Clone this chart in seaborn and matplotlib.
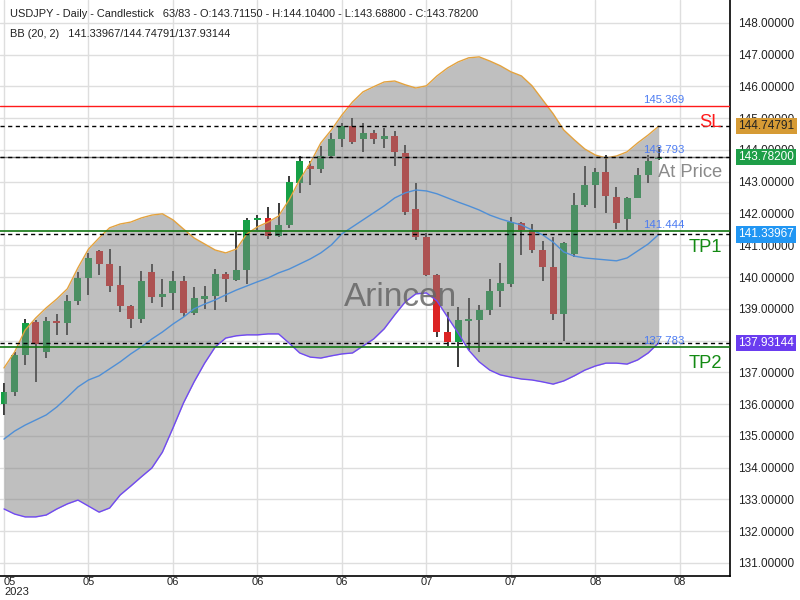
import numpy as np
import pandas as pd
import matplotlib
matplotlib.use("Agg")
import matplotlib.pyplot as plt
import seaborn as sns

# ---------------- data ----------------
opens = [136.00, 136.38, 137.55, 138.59, 137.64, 138.62, 138.55, 139.25, 139.97, 140.82,
         140.41, 139.75, 139.09, 138.68, 140.16, 139.37, 139.50, 139.88, 138.87, 139.31,
         139.40, 140.10, 139.91, 140.22, 141.80, 141.86, 141.29, 141.64, 142.96, 143.50,
         143.40, 143.81, 144.35, 144.76, 144.35, 144.54, 144.35, 144.44, 143.91, 142.14,
         141.26, 140.07, 138.27, 137.96, 138.62, 138.65, 138.96, 139.56, 139.78, 141.70,
         141.48, 140.85, 140.32, 138.84, 140.73, 142.27, 142.90, 143.31, 142.52, 141.83,
         142.49, 143.21, 143.7115]
highs = [136.66, 137.64, 138.68, 138.65, 138.74, 138.84, 139.44, 140.16, 140.76, 140.85,
         140.88, 140.35, 139.12, 140.19, 140.41, 139.94, 140.19, 140.03, 139.69, 139.72,
         140.25, 140.16, 141.45, 141.86, 141.95, 142.21, 142.33, 143.18, 143.81, 143.66,
         144.13, 144.54, 144.85, 145.01, 144.85, 144.63, 144.69, 144.60, 144.16, 142.96,
         141.39, 140.10, 138.90, 139.06, 139.34, 139.12, 139.94, 140.44, 141.89, 141.73,
         141.67, 141.14, 141.26, 141.10, 142.65, 143.50, 143.43, 143.84, 142.84, 142.52,
         143.43, 143.84, 144.104]
lows = [135.66, 136.26, 137.23, 136.70, 137.45, 138.18, 138.18, 139.12, 139.44, 140.07,
        139.53, 138.90, 138.40, 138.55, 139.18, 139.06, 138.96, 138.74, 138.81, 139.00,
        138.96, 139.22, 139.88, 139.78, 141.48, 141.20, 141.26, 141.55, 142.65, 142.90,
        143.28, 143.75, 144.10, 144.19, 143.94, 144.19, 144.06, 143.50, 141.95, 141.17,
        140.03, 138.11, 137.83, 137.17, 137.70, 137.64, 138.81, 139.06, 139.69, 140.70,
        140.76, 139.88, 138.65, 137.99, 140.63, 142.21, 142.18, 142.02, 141.51, 141.45,
        142.49, 142.96, 143.688]
closes = [136.38, 137.55, 138.55, 137.89, 138.62, 138.55, 139.25, 139.97, 140.60, 140.41,
          139.72, 139.09, 138.68, 139.88, 139.37, 139.47, 139.88, 138.87, 139.34, 139.40,
          140.10, 139.94, 140.22, 141.80, 141.86, 141.29, 141.64, 142.99, 143.66, 143.40,
          143.81, 144.35, 144.76, 144.25, 144.54, 144.35, 144.44, 143.94, 142.05, 141.26,
          140.07, 138.27, 137.96, 138.65, 138.65, 138.96, 139.56, 139.81, 141.73, 141.48,
          140.85, 140.32, 138.84, 141.07, 142.27, 142.90, 143.31, 142.55, 141.70, 142.49,
          143.21, 143.66, 143.782]

bb_upper = [137.14, 137.64, 138.33, 138.71, 139.03, 139.31, 139.63, 140.29, 140.88, 141.23,
            141.55, 141.67, 141.73, 141.86, 141.95, 141.99, 141.80, 141.51, 141.23, 141.04,
            140.85, 140.76, 140.88, 141.36, 141.58, 141.73, 141.92, 142.43, 143.06, 143.59,
            144.22, 144.63, 145.10, 145.51, 145.83, 145.99, 146.14, 146.17, 146.05, 145.95,
            146.02, 146.33, 146.58, 146.77, 146.90, 146.93, 146.80, 146.65, 146.46, 146.33,
            146.02, 145.58, 145.14, 144.63, 144.32, 144.03, 143.84, 143.75, 143.81, 143.94,
            144.22, 144.47, 144.74791]
bb_middle = [134.90, 135.15, 135.34, 135.50, 135.66, 135.91, 136.22, 136.54, 136.76, 136.89,
             137.11, 137.33, 137.58, 137.80, 138.05, 138.27, 138.52, 138.74, 139.00, 139.15,
             139.28, 139.44, 139.59, 139.72, 139.85, 139.97, 140.13, 140.25, 140.41, 140.57,
             140.76, 141.01, 141.36, 141.58, 141.80, 142.02, 142.24, 142.49, 142.65, 142.74,
             142.71, 142.62, 142.49, 142.36, 142.24, 142.11, 141.95, 141.83, 141.73, 141.64,
             141.48, 141.33, 141.10, 140.79, 140.66, 140.60, 140.57, 140.54, 140.51, 140.60,
             140.82, 141.04, 141.33967]
bb_lower = [132.70, 132.54, 132.45, 132.45, 132.51, 132.70, 132.86, 132.98, 132.79, 132.60,
            132.73, 133.14, 133.42, 133.71, 133.99, 134.49, 135.25, 136.04, 136.70, 137.29,
            137.80, 138.08, 138.15, 138.18, 138.18, 138.21, 138.21, 137.92, 137.61, 137.48,
            137.45, 137.52, 137.58, 137.61, 137.83, 138.05, 138.37, 138.81, 139.22, 139.47,
            139.50, 139.25, 138.74, 138.24, 137.70, 137.33, 137.07, 136.92, 136.85, 136.79,
            136.76, 136.70, 136.63, 136.73, 136.89, 137.07, 137.20, 137.29, 137.29, 137.26,
            137.39, 137.61, 137.93144]

tick_positions = [0, 8, 16, 24, 32, 40, 48, 56, 64]
tick_labels = ["05\n2023", "05", "06", "06", "06", "07", "07", "08", "08"]
y_ticks = [131, 132, 133, 134, 135, 136, 137, 138, 139, 140, 141, 142, 143, 144, 145, 146, 147, 148]

sl_level = 145.369
at_price_level = 143.793
tp1_level = 141.444
tp2_level = 137.783
current_price = 143.782
bb_now = (141.33967, 144.74791, 137.93144)

header1 = ("USDJPY - Daily - Candlestick   63/83 - O:143.71150 - H:144.10400 - "
           "L:143.68800 - C:143.78200")
header2 = "BB (20, 2)   141.33967/144.74791/137.93144"

# ---------------- style ----------------
sns.set_style("white")
plt.rcParams["font.family"] = ["Liberation Sans", "DejaVu Sans"]

df = pd.DataFrame({"idx": np.arange(len(opens)), "open": opens, "high": highs,
                   "low": lows, "close": closes, "upper": bb_upper,
                   "middle": bb_middle, "lower": bb_lower})

fig = plt.figure(figsize=(8, 6), dpi=100)
ax = fig.add_axes([0.0, 24 / 600, 730 / 800, 576 / 600])

# grid
for yv in y_ticks:
    ax.axhline(yv, color="#dedede", lw=1.0, zorder=0.5)
for xv in tick_positions:
    ax.axvline(xv, color="#dedede", lw=1.0, zorder=0.5)

# candles
up = df["close"] >= df["open"]
colors = np.where(up, "#16a046", "#dc2424")
ax.vlines(df["idx"], df["low"], df["high"], color="#2a2a2a", lw=1.3, zorder=1.9)
body_bottom = np.minimum(df["open"], df["close"])
body_h = np.maximum(np.abs(df["close"] - df["open"]), 0.06)
ax.bar(df["idx"], body_h, bottom=body_bottom, width=0.66, color=colors,
       linewidth=0, zorder=2)

# Bollinger band fill + lines
ax.fill_between(df["idx"], df["lower"], df["upper"], color="#808080", alpha=0.5,
                linewidth=0, zorder=3)
sns.lineplot(data=df, x="idx", y="upper", ax=ax, color="#e3a23e", lw=1.0, zorder=4)
sns.lineplot(data=df, x="idx", y="middle", ax=ax, color="#4f8fd6", lw=1.0, zorder=4)
sns.lineplot(data=df, x="idx", y="lower", ax=ax, color="#7049f2", lw=1.0, zorder=4)

# level lines
dash = (0, (3, 2.5))
ax.axhline(sl_level, color="#ff1a1a", lw=1.0, zorder=5)
ax.axhline(at_price_level, color="#7a7a7a", lw=1.0, zorder=5)
ax.axhline(tp1_level, color="#127512", lw=1.2, zorder=5)
ax.axhline(tp2_level, color="#127512", lw=1.2, zorder=5)
for lvl in [bb_now[1], current_price, bb_now[0], bb_now[2]]:
    ax.axhline(lvl, color="black", lw=1.0, linestyle=dash, zorder=5)

# level value texts (blue)
for lvl in [sl_level, at_price_level, tp1_level, tp2_level]:
    ax.annotate(f"{lvl:.3f}", xy=(664 / 730, lvl), xycoords=("axes fraction", "data"),
                xytext=(0, 1), textcoords="offset points", ha="center", va="bottom",
                fontsize=8.2, color="#4d7cf2", zorder=6)

# level names
for name, lvl, col in [("SL", sl_level, "#ff1a1a"), ("At Price", at_price_level, "#8a8a8a"),
                       ("TP1", tp1_level, "#138a13"), ("TP2", tp2_level, "#138a13")]:
    ax.annotate(name, xy=(722 / 730, lvl), xycoords=("axes fraction", "data"),
                xytext=(0, -5.5), textcoords="offset points", ha="right", va="top",
                fontsize=13.2, color=col, zorder=6)

# watermark
ax.text(400 / 730, (576 - 298) / 576, "Arincen", transform=ax.transAxes,
        ha="center", va="center", fontsize=24, color="#666666", alpha=0.85, zorder=6)

# header
ax.text(10 / 730, (576 - 14) / 576, header1, transform=ax.transAxes, ha="left",
        va="center", fontsize=7.9, color="#222222", zorder=7)
ax.text(10 / 730, (576 - 34) / 576, header2, transform=ax.transAxes, ha="left",
        va="center", fontsize=7.9, color="#222222", zorder=7)

# axes
ax.set_xlim(-0.38, 68.75)
ax.set_ylim(130.59, 148.72)
ax.set_xlabel("")
ax.set_ylabel("")
ax.yaxis.tick_right()
ax.set_yticks(y_ticks)
ax.set_yticklabels([f"{v:.5f}" for v in y_ticks])
ax.set_xticks(tick_positions)
ax.set_xticklabels(tick_labels)
for i, t in enumerate(ax.get_xticklabels()):
    t.set_linespacing(0.95)
    if i == 0:
        t.set_ha("left")
ax.tick_params(axis="y", length=0, pad=6, labelsize=8.5, colors="#222222")
ax.tick_params(axis="x", length=0, pad=1, labelsize=8.0, colors="#222222")
for s in ["left", "top"]:
    ax.spines[s].set_visible(False)
for s in ["right", "bottom"]:
    ax.spines[s].set_color("black")
    ax.spines[s].set_linewidth(1.2)

# price boxes on right axis
for val, bg, fg in [(bb_now[1], "#d69b35", "#222222"), (current_price, "#1e9e48", "white"),
                    (bb_now[0], "#2196f3", "white"), (bb_now[2], "#6a3cf0", "white")]:
    ax.annotate(f"{val:.5f}", xy=(1.0, val), xycoords=("axes fraction", "data"),
                xytext=(6, 0), textcoords="offset points", ha="left", va="center",
                fontsize=8.5, color=fg, annotation_clip=False, zorder=8,
                bbox=dict(boxstyle="square,pad=0.18", fc=bg, ec="none"))

fig.savefig("out.png", dpi=100)
